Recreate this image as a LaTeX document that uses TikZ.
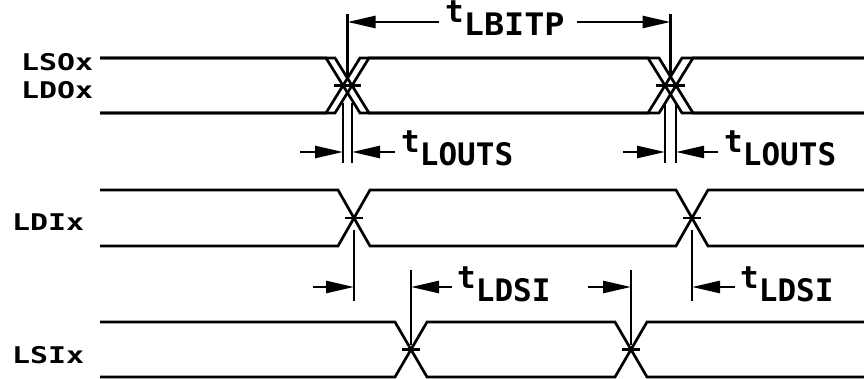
\documentclass[tikz,border=0pt]{standalone}
\usepackage{graphicx}
\usepackage{fontspec}
\setmonofont{DejaVu Sans Mono}
\usetikzlibrary{arrows.meta}
\newcommand\tsub[2]{#1\lower13pt\hbox{#2}}
\newcommand\wlabel[1]{\scalebox{1.3}[1]{#1}}
\tikzset{
  lbl/.style={font=\fontsize{23}{23}\selectfont\ttfamily\bfseries, inner sep=0pt, anchor=base west},
  tim/.style={font=\fontsize{31}{31}\selectfont\ttfamily\bfseries, inner sep=0pt, anchor=base west},
  wave/.style={line width=2.7pt},
  ext/.style={line width=2.5pt},
  dimarr/.style={line width=2.5pt, -{Triangle[length=28pt,width=12pt]}},
  xtick/.style={line width=2.6pt}
}
\begin{document}
\begin{tikzpicture}[x=1pt,y=-1pt]
\useasboundingbox (0,0) rectangle (864,379);
% ---------- LSOx / LDOx (T=58, B=113) ----------
% LSOx: crossings at 343 and 665
\draw[wave] (100,58) -- (326,58) -- (360,113) -- (648,113) -- (682,58) -- (870,58);
\draw[wave] (100,113) -- (326,113) -- (360,58) -- (648,58) -- (682,113) -- (870,113);
% LDOx: crossings at 352 and 676
\draw[wave] (100,58) -- (335,58) -- (369,113) -- (659,113) -- (693,58) -- (870,58);
\draw[wave] (100,113) -- (335,113) -- (369,58) -- (659,58) -- (693,113) -- (870,113);
\foreach \cx in {343,352,665,676} \draw[xtick] (\cx-9,85.5) -- (\cx+9,85.5);
% ---------- LDIx (T=190, B=246) ----------
\draw[wave] (100,190) -- (338,190) -- (370,246) -- (676,246) -- (708,190) -- (870,190);
\draw[wave] (100,246) -- (338,246) -- (370,190) -- (676,190) -- (708,246) -- (870,246);
\foreach \cx in {354,692} \draw[xtick] (\cx-9,218) -- (\cx+9,218);
% ---------- LSIx (T=322, B=377) ----------
\draw[wave] (100,322) -- (395,322) -- (427,377) -- (615,377) -- (647,322) -- (870,322);
\draw[wave] (100,377) -- (395,377) -- (427,322) -- (615,322) -- (647,377) -- (870,377);
\foreach \cx in {411,631} \draw[xtick] (\cx-9,349.5) -- (\cx+9,349.5);
% ---------- labels ----------
\node[lbl] (lso) at (21,71) {\wlabel{LSOx}};
\node[lbl] (ldo) at (21,99) {\wlabel{LDOx}};
\node[lbl] (ldi) at (12,231) {\wlabel{LDIx}};
\node[lbl] (lsi) at (12,363) {\wlabel{LSIx}};
% ---------- extension lines ----------
\coordinate (bA) at (347.5,14);  \coordinate (bAe) at (347.5,78);
\coordinate (bB) at (670.5,14);  \coordinate (bBe) at (670.5,78);
\draw[ext] (bA) -- (bAe);
\draw[ext] (bB) -- (bBe);
\foreach \cx/\nm in {343/oa,352/ob,665/oc,676/od}{
  \coordinate (\nm) at (\cx,152);
  \draw[ext] (\cx,103) -- (\cx,163);
}
\coordinate (dia) at (354,287); \coordinate (dib) at (692,287);
\coordinate (sia) at (411,287); \coordinate (sib) at (631,287);
\draw[ext] (354,230) -- (354,301);
\draw[ext] (692,230) -- (692,301);
\draw[ext] (411,270) -- (411,345);
\draw[ext] (631,270) -- (631,345);
% ---------- dimension arrows ----------
\coordinate (ba) at (347.5,22); \coordinate (bb) at (670.5,22);
\coordinate (lbl1) at (439,22); \coordinate (lbr1) at (577,22);
\draw[dimarr] (lbl1) -- (ba);
\draw[dimarr] (lbr1) -- (bb);
\node[tim] (tlbitp) at (445,23) {\tsub{t}{\scalebox{1.08}[1]{LBITP}}};
\coordinate (o1) at (300,152); \coordinate (o2) at (395,152);
\coordinate (o3) at (623,152); \coordinate (o4) at (718,152);
\draw[dimarr] (o1) -- (oa);
\draw[dimarr] (o2) -- (ob);
\draw[dimarr] (o3) -- (oc);
\draw[dimarr] (o4) -- (od);
\node[tim] (tlo1) at (401,153) {\tsub{t}{LOUTS}};
\node[tim] (tlo2) at (724,153) {\tsub{t}{LOUTS}};
\coordinate (d1) at (313,287); \coordinate (d2) at (452,287);
\coordinate (d3) at (588,287); \coordinate (d4) at (735,287);
\draw[dimarr] (d1) -- (dia);
\draw[dimarr] (d2) -- (sia);
\draw[dimarr] (d3) -- (sib);
\draw[dimarr] (d4) -- (dib);
\node[tim] (tld1) at (457,288) {\tsub{t}{LDSI}};
\node[tim] (tld2) at (740,288) {\tsub{t}{LDSI}};
\end{tikzpicture}
\end{document}
